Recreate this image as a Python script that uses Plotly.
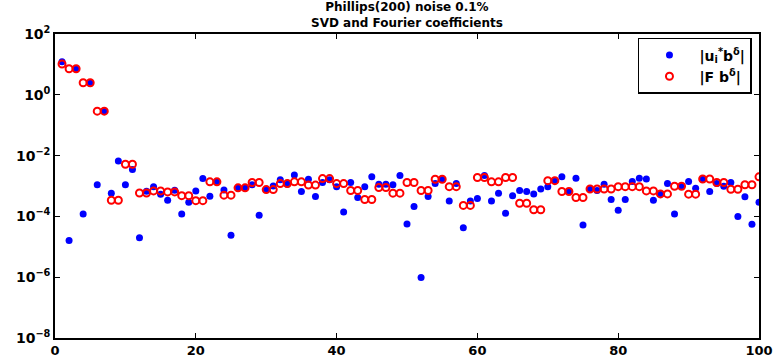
import plotly.graph_objects as go

# Coefficient index
idx = list(range(1, 101))

# |u_i^* b^delta| : SVD coefficients of the noisy right-hand side
svd_coef = [
    12.2, 1.6e-5, 7.2, 1.2e-4, 2.4, 1.1e-3, 0.29, 5.8e-4, 6.7e-3, 1.1e-3,
    3.5e-3, 2.0e-5, 6.7e-4, 9.5e-4, 5.4e-4, 3.4e-4, 7.2e-4, 1.2e-4, 2.9e-4, 6.9e-4,
    1.75e-3, 4.6e-4, 1.4e-3, 7.4e-4, 2.4e-5, 8.7e-4, 8.7e-4, 1.1e-3, 1.1e-4, 7.6e-4,
    1.0e-3, 1.6e-3, 1.15e-3, 2.3e-3, 6.6e-4, 1.67e-3, 4.5e-4, 1.3e-3, 1.6e-3, 9.5e-4,
    1.4e-4, 1.3e-3, 4.2e-4, 9.5e-4, 2.0e-3, 1.15e-3, 1.15e-3, 1.1e-3, 2.2e-3, 5.6e-5,
    2.1e-4, 9.8e-7, 4.5e-4, 1.2e-3, 1.67e-3, 3.2e-4, 1.2e-3, 4.2e-5, 3.2e-4, 3.9e-4,
    2.2e-3, 3.2e-4, 5.8e-4, 1.26e-4, 4.8e-4, 7.1e-4, 6.6e-4, 5.5e-4, 8.0e-4, 9.5e-4,
    1.5e-3, 2.0e-3, 6.6e-4, 1.8e-3, 5.2e-5, 8.0e-4, 7.1e-4, 1.15e-3, 3.6e-4, 1.6e-4,
    3.6e-4, 1.4e-3, 1.8e-3, 1.7e-3, 3.4e-4, 5.5e-4, 1.2e-3, 1.2e-4, 9.8e-4, 1.4e-3,
    8.4e-4, 1.67e-3, 6.6e-4, 1.2e-3, 9.8e-4, 1.3e-3, 1.0e-4, 4.4e-4, 5.5e-5, 2.9e-4,
]

# |F b^delta| : Fourier coefficients (cos/sin pairs share a modulus)
fourier_coef = [
    10.3, 7.2, 7.2, 2.5, 2.5, 0.29, 0.29, 3.4e-4, 3.4e-4, 5.2e-3,
    5.2e-3, 5.9e-4, 5.9e-4, 6.9e-4, 6.9e-4, 6.4e-4, 6.4e-4, 4.8e-4, 4.8e-4, 3.3e-4,
    3.3e-4, 1.37e-3, 1.37e-3, 5.0e-4, 5.0e-4, 8.7e-4, 8.7e-4, 1.3e-3, 1.3e-3, 7.6e-4,
    7.6e-4, 1.2e-3, 1.2e-3, 1.37e-3, 1.37e-3, 1.07e-3, 1.07e-3, 1.75e-3, 1.75e-3, 1.2e-3,
    1.2e-3, 7.1e-4, 7.1e-4, 3.6e-4, 3.6e-4, 8.9e-4, 8.9e-4, 5.8e-4, 5.8e-4, 1.3e-3,
    1.3e-3, 7.1e-4, 7.1e-4, 1.67e-3, 1.67e-3, 9.5e-4, 9.5e-4, 2.3e-4, 2.3e-4, 1.9e-3,
    1.9e-3, 1.37e-3, 1.37e-3, 1.9e-3, 1.9e-3, 2.7e-4, 2.7e-4, 1.66e-4, 1.66e-4, 1.5e-3,
    1.5e-3, 6.6e-4, 6.6e-4, 4.2e-4, 4.2e-4, 8.0e-4, 8.0e-4, 8.0e-4, 8.0e-4, 9.5e-4,
    9.5e-4, 9.5e-4, 9.5e-4, 6.9e-4, 6.9e-4, 5.5e-4, 5.5e-4, 9.8e-4, 9.8e-4, 5.4e-4,
    5.4e-4, 1.7e-3, 1.7e-3, 1.3e-3, 1.3e-3, 7.8e-4, 7.8e-4, 1.1e-3, 1.1e-3, 2.0e-3,
]

x_ticks = [0, 20, 40, 60, 80, 100]
y_exponents = [-8, -6, -4, -2, 0, 2]
title_lines = ["Phillips(200) noise 0.1%", "SVD and Fourier coefficients"]

FONT = "DejaVu Sans"

fig = go.Figure()
fig.add_trace(go.Scatter(
    x=idx, y=svd_coef, mode="markers",
    name="|u<sub>i</sub><sup>*</sup>b<sup>δ</sup>|",
    marker=dict(symbol="circle", size=7, color="blue", line=dict(width=0)),
))
fig.add_trace(go.Scatter(
    x=idx, y=fourier_coef, mode="markers",
    name="|F b<sup>δ</sup>|",
    marker=dict(symbol="circle-open", size=7, color="red", line=dict(width=2, color="red")),
))

axis_common = dict(
    showgrid=False, zeroline=False, showline=True, linecolor="black", linewidth=1.5,
    mirror="ticks", ticks="inside", ticklen=5, tickcolor="black", tickwidth=1,
    automargin=False,
)

fig.update_xaxes(
    range=[0, 100], tickvals=x_ticks, ticktext=[str(v) for v in x_ticks],
    tickfont=dict(family=FONT, size=13, color="black", weight="bold"),
    **axis_common,
)
fig.update_yaxes(
    type="log", range=[-8, 2],
    tickvals=[10.0 ** e for e in y_exponents],
    ticktext=["10<sup>%s</sup>" % (str(e).replace("-", "−")) for e in y_exponents],
    tickfont=dict(family=FONT, size=14, color="black", weight="bold"),
    **axis_common,
)

# two-line title above the axes box
fig.add_annotation(
    text="<br>".join(title_lines), showarrow=False, align="center",
    xref="paper", x=0.5, xanchor="center",
    yref="paper", y=1 + (34 - 15) / 304.0, yanchor="middle",
    borderpad=0,
    font=dict(family=FONT, size=12, color="black", weight="bold"),
)

fig.update_layout(
    width=776, height=358,
    margin=dict(l=55, r=17, t=34, b=20),
    paper_bgcolor="white", plot_bgcolor="white",
    legend=dict(
        x=0.99, y=0.987, xanchor="right", yanchor="top",
        bgcolor="white", bordercolor="black", borderwidth=1.5,
        font=dict(family=FONT, size=14, color="black", weight="bold"),
        itemwidth=50, tracegroupgap=0,
    ),
    showlegend=True,
)

fig.write_html("out.html")
